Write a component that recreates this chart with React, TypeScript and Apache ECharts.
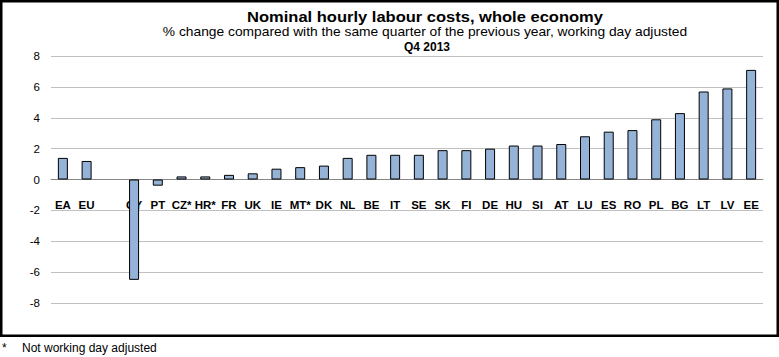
import React, { useEffect, useRef } from "react";
import * as echarts from "echarts";

const categories: string[] = [
  "EA", "EU", "", "CY", "PT", "CZ*", "HR*", "FR", "UK", "IE", "MT*", "DK", "NL", "BE", "IT",
  "SE", "SK", "FI", "DE", "HU", "SI", "AT", "LU", "ES", "RO", "PL", "BG", "LT", "LV", "EE",
];
const values: (number | null)[] = [
  1.4, 1.2, null, -6.5, -0.4, 0.2, 0.2, 0.3, 0.4, 0.7, 0.8, 0.9, 1.4, 1.6, 1.6,
  1.6, 1.9, 1.9, 2.0, 2.2, 2.2, 2.3, 2.8, 3.1, 3.2, 3.9, 4.3, 5.7, 5.9, 7.1,
];
const titleText = "Nominal hourly labour costs, whole economy";
const subtitleText = "% change compared with the same quarter of the previous year, working day adjusted";
const periodText = "Q4 2013";
const footnoteMark = "*";
const footnoteText = "Not working day adjusted";

const FONT = '"Liberation Sans", Arial, sans-serif';

export default function App() {
  const ref = useRef<HTMLDivElement>(null);
  useEffect(() => {
    if (!ref.current) return;
    const chart = echarts.init(ref.current, null, { renderer: "svg" });
    chart.setOption({
      animation: false,
      backgroundColor: "#ffffff",
      textStyle: { fontFamily: FONT },
      grid: { left: 51, right: 16, top: 56, bottom: 54, containLabel: false },
      xAxis: {
        type: "category",
        data: categories,
        offset: -123.5,
        axisLine: { onZero: false, lineStyle: { color: "#868686", width: 1 } },
        axisTick: { show: false },
        axisLabel: {
          interval: 0,
          margin: 19,
          color: "#000",
          fontWeight: "bold",
          fontSize: 11.5,
          fontFamily: FONT,
        },
      },
      yAxis: {
        type: "value",
        min: -8,
        max: 8,
        interval: 2,
        axisLine: { show: false },
        axisTick: { show: false },
        axisLabel: { margin: 11, color: "#000", fontSize: 11.5, fontFamily: FONT },
        splitLine: { lineStyle: { color: "#c0c0c0", width: 1 } },
      },
      series: [
        {
          type: "bar",
          data: values,
          barWidth: 10,
          itemStyle: { color: "#95B3D7", borderColor: "#000", borderWidth: 1 },
        },
      ],
      graphic: [
        {
          type: "rect",
          shape: { x: 1.25, y: 1.25, width: 776.5, height: 334.5 },
          style: { fill: "none", stroke: "#000", lineWidth: 2.5 },
          z: 100,
        },
        {
          type: "text",
          x: 425,
          y: 17,
          scaleX: 1.18,
          style: {
            text: titleText,
            textAlign: "center",
            textVerticalAlign: "middle",
            font: `bold 14px ${FONT}`,
            fill: "#000",
          },
        },
        {
          type: "text",
          x: 425,
          y: 32,
          scaleX: 1.15,
          style: {
            text: subtitleText,
            textAlign: "center",
            textVerticalAlign: "middle",
            font: `12px ${FONT}`,
            fill: "#000",
          },
        },
        {
          type: "text",
          x: 427,
          y: 46.5,
          style: {
            text: periodText,
            textAlign: "center",
            textVerticalAlign: "middle",
            font: `bold 12px ${FONT}`,
            fill: "#000",
          },
        },
        {
          type: "text",
          x: 2,
          y: 348,
          style: {
            text: footnoteMark,
            textAlign: "left",
            textVerticalAlign: "middle",
            font: `12px ${FONT}`,
            fill: "#000",
          },
        },
        {
          type: "text",
          x: 22,
          y: 348,
          style: {
            text: footnoteText,
            textAlign: "left",
            textVerticalAlign: "middle",
            font: `12px ${FONT}`,
            fill: "#000",
          },
        },
      ],
    });
    return () => chart.dispose();
  }, []);
  return (
    <div
      ref={ref}
      style={{ position: "absolute", left: 0, top: 0, width: 779, height: 357 }}
    />
  );
}
